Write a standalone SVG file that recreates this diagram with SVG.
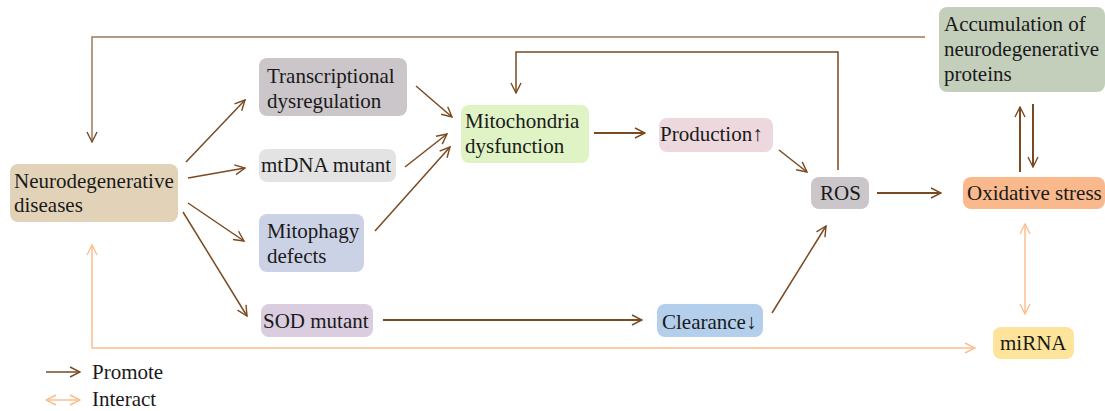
<svg xmlns="http://www.w3.org/2000/svg" width="1105" height="411" viewBox="0 0 1105 411">
<defs>
<marker id="ab" viewBox="0 0 12 12" refX="11" refY="6" markerWidth="12" markerHeight="12" markerUnits="userSpaceOnUse" orient="auto-start-reverse">
<path d="M1,1 L11,6 L1,11" fill="none" stroke="#7a4a22" stroke-width="1.4"/>
</marker>
<marker id="ap" viewBox="0 0 12 12" refX="11" refY="6" markerWidth="12" markerHeight="12" markerUnits="userSpaceOnUse" orient="auto-start-reverse">
<path d="M1,1 L11,6 L1,11" fill="none" stroke="#fbbf90" stroke-width="1.4"/>
</marker>
</defs>
<style>
text{font-family:'Liberation Serif','DejaVu Serif',serif;font-size:21px;fill:#1a1a1a}
.b{fill:none;stroke:#7a4a22;stroke-width:1.5;marker-end:url(#ab)}
.b2{fill:none;stroke:#7a4a22;stroke-width:2;marker-end:url(#ab)}
.p{fill:none;stroke:#fbbf90;stroke-width:1.5;marker-start:url(#ap);marker-end:url(#ap)}
</style>
<rect width="1105" height="411" fill="#ffffff"/>
<g id="connectors">
<polyline points="925,37 92,37 92,142" fill="none" stroke="#9c7a5c" stroke-width="1.5" marker-end="url(#ab)"/>
<polyline class="b" points="838,170 838,52 516,52 516,93"/>
<line class="b" x1="186" y1="162" x2="245" y2="100"/>
<line class="b" x1="188" y1="178" x2="245" y2="168"/>
<line class="b" x1="188" y1="203" x2="244" y2="241"/>
<line class="b" x1="183" y1="212" x2="247" y2="316"/>
<line class="b" x1="416" y1="86" x2="452" y2="117"/>
<line class="b" x1="405" y1="167" x2="447" y2="134"/>
<line class="b" x1="375" y1="231" x2="450" y2="147"/>
<line class="b2" x1="594" y1="133" x2="645" y2="133"/>
<line class="b" x1="779" y1="150" x2="807" y2="172"/>
<line class="b2" x1="877" y1="193" x2="941" y2="193"/>
<line class="b2" x1="383" y1="320" x2="642" y2="320"/>
<line class="b" x1="772" y1="313" x2="826" y2="226"/>
<line class="b2" x1="1020" y1="172" x2="1020" y2="107"/>
<line class="b2" x1="1033" y1="104" x2="1033" y2="167"/>
<line class="p" x1="1025" y1="224" x2="1025" y2="314"/>
<polyline class="p" points="92,245 92,348 975,348"/>
<line class="b" x1="46" y1="372" x2="80" y2="372"/>
<line class="p" x1="46" y1="400" x2="80" y2="400"/>
</g>
<g id="neuro"><rect x="10" y="164" width="168" height="58" rx="8" fill="#e2d3b8"/><text x="14" y="188">Neurodegenerative</text><text x="14" y="212">diseases</text></g>
<g id="transcriptional"><rect x="259" y="58" width="148" height="58" rx="8" fill="#cbc6c9"/><text x="267" y="83">Transcriptional</text><text x="267" y="108">dysregulation</text></g>
<g id="mtdna"><rect x="259" y="149" width="137" height="33" rx="8" fill="#e4e3e4"/><text x="261" y="172">mtDNA mutant</text></g>
<g id="mitophagy"><rect x="259" y="214" width="105" height="58" rx="8" fill="#ccd2e6"/><text x="267" y="238">Mitophagy</text><text x="267" y="263">defects</text></g>
<g id="mito"><rect x="461" y="105" width="128" height="58" rx="8" fill="#dff3c5"/><text x="465" y="128">Mitochondria</text><text x="465" y="153">dysfunction</text></g>
<g id="production"><rect x="659" y="118" width="114" height="34" rx="8" fill="#edd8dd"/><text x="660" y="141">Production↑</text></g>
<g id="ros"><rect x="811" y="177" width="58" height="32" rx="8" fill="#cbc6c9"/><text x="820" y="200">ROS</text></g>
<g id="accumulation"><rect x="939" y="7" width="166" height="85" rx="8" fill="#c3cfbb"/><text x="944" y="31">Accumulation of</text><text x="944" y="56">neurodegenerative</text><text x="944" y="81">proteins</text></g>
<g id="oxidative"><rect x="963" y="177" width="142" height="32" rx="8" fill="#f9b98c"/><text x="967" y="200">Oxidative stress</text></g>
<g id="sod"><rect x="261" y="304" width="112" height="33" rx="8" fill="#d9cddf"/><text x="263" y="328">SOD mutant</text></g>
<g id="clearance"><rect x="657" y="304" width="106" height="33" rx="8" fill="#b3cfec"/><text x="662" y="329">Clearance↓</text></g>
<g id="mirna"><rect x="993" y="327" width="81" height="32" rx="8" fill="#fde49a"/><text x="1000" y="350">miRNA</text></g>
<g id="legend"><text x="92" y="379">Promote</text><text x="92" y="406">Interact</text></g>
</svg>
